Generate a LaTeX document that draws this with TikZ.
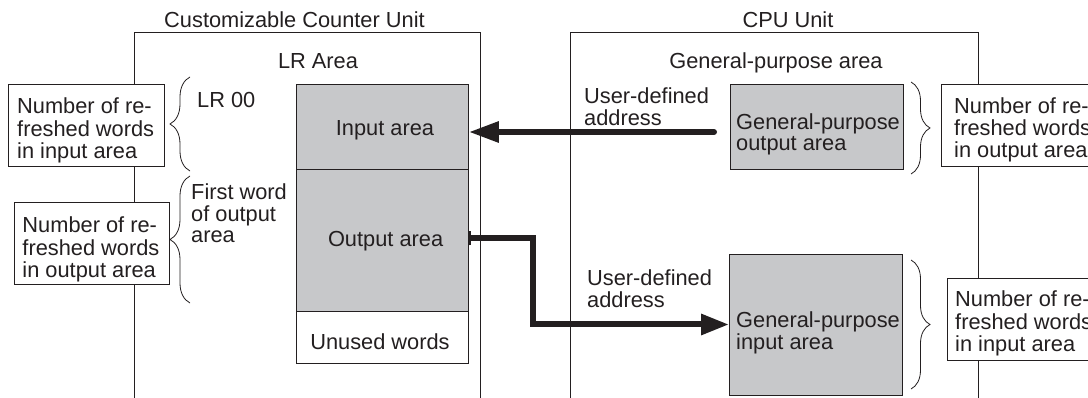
\documentclass[tikz,border=0pt]{standalone}
\usepackage{fontspec}
\setmainfont{Liberation Sans}
\usetikzlibrary{arrows.meta,decorations.pathreplacing}
\definecolor{ink}{RGB}{35,31,32}
\definecolor{areagray}{RGB}{199,200,202}
\newcommand\mlines[1]{\begin{tabular}[t]{@{}l@{}}#1\end{tabular}}
\begin{document}
\begin{tikzpicture}[x=1pt,y=-1pt,
  every node/.style={font=\fontsize{21.8}{20.7}\selectfont, text=ink, inner sep=0pt},
  frame/.style={draw=ink, line width=0.9pt},
  areabox/.style={draw=ink, line width=0.9pt, fill=areagray, anchor=north west},
  notebox/.style={draw=ink, line width=0.9pt, fill=white, anchor=north west},
  lbl/.style={anchor=base west},
  ctr/.style={anchor=base},
  bracel/.style={draw=ink, line width=0.8pt, decorate, decoration={brace, amplitude=20pt}},
  bracer/.style={draw=ink, line width=0.8pt, decorate, decoration={brace, amplitude=19pt}},
  flow/.style={draw=ink, line width=6pt}
]
\useasboundingbox (0,0) rectangle (1088,398);
\clip (0,0) rectangle (1088,398);
% unit frames
\draw[frame] (134,400) -- (134,32) -- (480,32) -- (480,400);
\draw[frame] (570,400) -- (570,32) -- (978,32) -- (978,400);
% titles
\node[ctr] (tcc) at (294.5,28) {Customizable Counter Unit};
\node[ctr] (tcpu) at (788,28) {CPU Unit};
\node[ctr] (tlr) at (318,68.5) {LR Area};
\node[ctr] (tgp) at (776,68.5) {General-purpose area};
% LR area
\node[areabox, minimum width=172pt, minimum height=85pt] (inbox) at (296,84) {};
\node[areabox, minimum width=172pt, minimum height=142pt] (outbox) at (296,169) {};
\node[notebox, minimum width=172pt, minimum height=52pt] (unbox) at (296,311) {};
\node[ctr] (tin) at (385,136) {Input area};
\node[ctr] (tout) at (385.6,247) {Output area};
\node[ctr] (tun) at (380,349.5) {Unused words};
\node[lbl] (tlr0) at (197,107.5) {LR 00};
\node[lbl] (tfw) at (191,199.5) {\mlines{First word\\of output\\area}};
\draw[bracel] (190,171) -- (190,77);
\draw[bracel] (190,303) -- (190,176);
% left notes
\node[notebox, minimum width=156pt, minimum height=82pt] (nb1) at (8,84) {};
\node[lbl] (nt1) at (17,114) {\mlines{Number of re-\\freshed words\\in input area}};
\node[notebox, minimum width=155pt, minimum height=82pt] (nb2) at (14,202) {};
\node[lbl] (nt2) at (22.3,233) {\mlines{Number of re-\\freshed words\\in output area}};
% CPU side
\node[lbl] (ud1) at (584,103.5) {\mlines{User-defined\\address}};
\node[areabox, minimum width=173pt, minimum height=85pt] (gpout) at (730,84) {};
\node[lbl] (tgpo) at (736,129.5) {\mlines{General-purpose\\output area}};
\draw[bracer] (911,82) -- (911,174);
\node[notebox, minimum width=170pt, minimum height=82pt] (nb3) at (941,84) {};
\node[lbl] (nt3) at (954,113.5) {\mlines{Number of re-\\freshed words\\in output area}};
\node[lbl] (ud2) at (587,285.5) {\mlines{User-defined\\address}};
\node[areabox, minimum width=173pt, minimum height=141pt] (gpin) at (729,254) {};
\node[lbl] (tgpi) at (736,327) {\mlines{General-purpose\\input area}};
\draw[bracer] (911,260) -- (911,389);
\node[notebox, minimum width=160pt, minimum height=82pt] (nb4) at (947,278) {};
\node[lbl] (nt4) at (955,307) {\mlines{Number of re-\\freshed words\\in input area}};
% flows
\coordinate (a1s) at (714,132);
\draw[flow, line cap=round, -{Triangle[length=30pt,width=20pt]}] (a1s) -- (a1s -| inbox.east);
\coordinate (a2s) at ([yshift=2pt]outbox.east);
\coordinate (a2m) at (533,324.5);
\draw[flow, {Bar[width=14pt,line width=2pt]}-{Triangle[length=28pt,width=20pt]}] (a2s) -| (a2m) -- (a2m -| gpin.west);
\end{tikzpicture}
\end{document}
